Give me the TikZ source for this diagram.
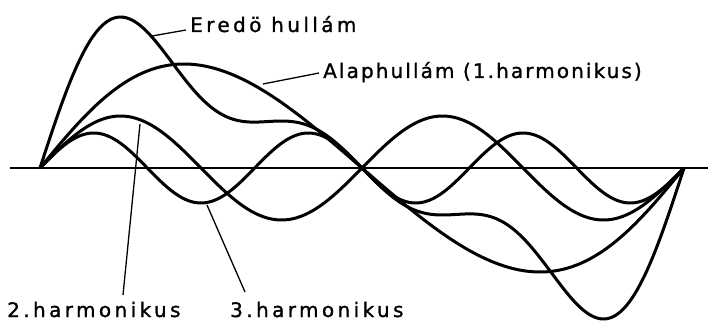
\documentclass[tikz,border=0pt]{standalone}
\usepackage{fontspec}
\newfontfamily\lblfont[LetterSpace=17,FakeBold=1.2]{DejaVu Sans}
\newfontfamily\lblfontn[LetterSpace=10.5,FakeBold=1.2]{DejaVu Sans}
\usetikzlibrary{calc}

\begin{document}
\begin{tikzpicture}[
  x=1pt, y=-1pt,
  wave/.style={line width=3pt, line join=round, smooth, samples=240, domain=0:360},
  axisline/.style={line width=1.6pt},
  leader/.style={line width=1.3pt},
  lbl/.style={inner sep=0pt, anchor=base west, font={\fontsize{20}{24}\lblfont}}
]
  \useasboundingbox (0,0) rectangle (708,326);

  % axis
  \draw[axisline] (10,168) -- (708,168);

  % fundamental, 2nd and 3rd harmonic, resultant
  \draw[wave] plot ({40+1.78889*\x-17*sin(\x)}, {168-104*sin(\x)});
  \draw[wave] plot ({40+1.78889*\x}, {168-52*sin(2*\x)});
  \draw[wave] plot ({40+1.78889*\x}, {168-35*sin(3*\x)});
  \draw[wave] plot ({40+1.78889*\x}, {168-105*sin(\x)-52*sin(2*\x)-35*sin(3*\x)});

  \node[lbl] (eredo) at (190,32) {Eredö hullám};
  \node[lbl, font={\fontsize{20}{24}\lblfontn}] (alap) at (323,78) {Alaphullám (1.harmonikus)};
  \node[lbl] (h2lab) at (7,317) {2.harmonikus};
  \node[lbl] (h3lab) at (230,317) {3.harmonikus};

  \coordinate (resp) at (152,36);
  \coordinate (alapp) at (263,84);
  \coordinate (h2p) at (140,124);
  \coordinate (h3p) at (207,205);

  \draw[leader] (resp) -- ([xshift=-4pt,yshift=2pt]eredo.base west);
  \draw[leader] (alapp) -- ([xshift=-4pt,yshift=5pt]alap.base west);
  \draw[leader] (h2p) -- ([xshift=116pt,yshift=22pt]h2lab.base west);
  \draw[leader] (h3p) -- ([xshift=15pt,yshift=25pt]h3lab.base west);
\end{tikzpicture}
\end{document}
